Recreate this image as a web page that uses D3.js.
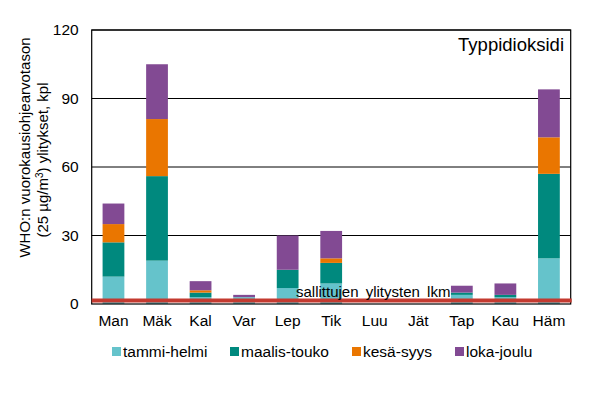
<!DOCTYPE html>
<html><head><meta charset="utf-8">
<script src="https://cdn.jsdelivr.net/npm/d3@7"></script>
<style>body{margin:0;background:#fff}svg{display:block;font-family:"Liberation Sans",Arial,sans-serif}</style>
</head><body><svg id="c" width="608" height="393"></svg>
<script>
const categories = ["Man","Mäk","Kal","Var","Lep","Tik","Luu","Jät","Tap","Kau","Häm"];
const seriesNames = ["tammi-helmi","maalis-touko","kesä-syys","loka-joulu"];
const tammiHelmi  = [12,19,3,3,7,9,0,0,4,3,20];
const maalisTouko = [15,37,2,0,8,9,0,0,1,1,37];
const kesaSyys    = [8,25,1,0,0,2,0,0,0,0,16];
const lokaJoulu   = [9,24,4,1,15,12,0,0,3,5,21];
const yTicks = [0,30,60,90,120];
const allowedCount = 1.5;
const allowedLabel = "sallittujen ylitysten lkm";
const title = "Typpidioksidi";
const colors = ["#65C3CB","#00897E","#EA7600","#824A93"];

const svg = d3.select("#c");
const L = 91.7, R = 570.7, T = 30, B = 304;
const x = d3.scaleBand().domain(categories).range([L,R]).paddingInner(0.5).paddingOuter(0.25);
const y = d3.scaleLinear().domain([0,120]).range([B,T]);

const rows = categories.map((c,i)=>({cat:c,"tammi-helmi":tammiHelmi[i],"maalis-touko":maalisTouko[i],"kesä-syys":kesaSyys[i],"loka-joulu":lokaJoulu[i]}));
const stack = d3.stack().keys(seriesNames)(rows);

// gridlines
svg.append("g").selectAll("line").data(yTicks.filter(d=>d>0)).join("line")
  .attr("x1",L).attr("x2",R).attr("y1",d=>y(d)).attr("y2",d=>y(d))
  .attr("stroke","#000").attr("stroke-width",1);

// bars
svg.append("g").selectAll("g").data(stack).join("g").attr("fill",(d,i)=>colors[i])
  .selectAll("rect").data(d=>d).join("rect")
  .attr("x",d=>x(d.data.cat)).attr("width",x.bandwidth())
  .attr("y",d=>y(d[1])).attr("height",d=>Math.max(0,y(d[0])-y(d[1])));

// frame
svg.append("rect").attr("x",L).attr("y",T).attr("width",R-L).attr("height",B-T)
  .attr("fill","none").attr("stroke","#000").attr("stroke-width",1.2);

// threshold line
svg.append("line").attr("x1",L).attr("x2",R+1).attr("y1",y(allowedCount)).attr("y2",y(allowedCount))
  .attr("stroke","#C43A30").attr("stroke-width",4);
svg.append("text").attr("x",296).attr("y",296.5).attr("font-size","15px").attr("word-spacing","3px")
  .attr("fill","#000").text(allowedLabel);

// y axis
const ya = svg.append("g").attr("transform",`translate(${L},0)`)
  .call(d3.axisLeft(y).tickValues(yTicks).tickSize(0).tickPadding(13));
ya.select(".domain").remove();
ya.selectAll("text").attr("font-size","15.5px").attr("font-family","Liberation Sans, Arial, sans-serif").attr("fill","#000");

// x axis
const xa = svg.append("g").attr("transform",`translate(0,${B})`)
  .call(d3.axisBottom(x).tickSize(0).tickPadding(11));
xa.select(".domain").remove();
xa.selectAll("text").attr("font-size","15.5px").attr("font-family","Liberation Sans, Arial, sans-serif").attr("fill","#000");

// title
svg.append("text").attr("x",564).attr("y",51).attr("text-anchor","end").attr("font-size","18.5px").attr("fill","#000").text(title);

// y label
svg.append("text").attr("transform","translate(30,147.5) rotate(-90)").attr("text-anchor","middle")
  .attr("font-size","15px").attr("fill","#000").text("WHO:n vuorokausiohjearvotason");
const yl2 = svg.append("text").attr("transform","translate(48,160) rotate(-90)").attr("text-anchor","middle")
  .attr("font-size","15px").attr("fill","#000");
yl2.append("tspan").text("(25 µg/m");
yl2.append("tspan").attr("font-size","10px").attr("dy","-5").text("3");
yl2.append("tspan").attr("dy","5").text(") ylitykset, kpl");

// legend
const legX = [112,230,352,455];
const lg = svg.append("g").selectAll("g").data(seriesNames).join("g")
  .attr("transform",(d,i)=>`translate(${legX[i]},347)`);
lg.append("rect").attr("width",9).attr("height",9).attr("fill",(d,i)=>colors[i]);
lg.append("text").attr("x",11).attr("y",10).attr("font-size","15.5px").attr("fill","#000").text(d=>d);
</script></body></html>
